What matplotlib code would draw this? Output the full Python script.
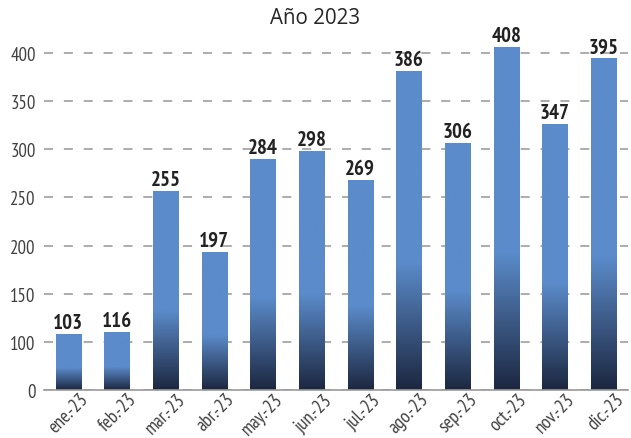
import numpy as np
import matplotlib
matplotlib.use('Agg')
import matplotlib.pyplot as plt
from matplotlib.colors import LinearSegmentedColormap
from matplotlib.transforms import ScaledTranslation

# Datos del gráfico
meses = ['ene.-23', 'feb.-23', 'mar.-23', 'abr.-23', 'may.-23', 'jun.-23',
         'jul.-23', 'ago.-23', 'sep.-23', 'oct.-23', 'nov.-23', 'dic.-23']
# altura de las barras
alturas = [108, 110, 256, 193, 289, 298, 268, 381, 306, 406, 326, 394]
# etiquetas de datos
etiquetas = [103, 116, 255, 197, 284, 298, 269, 386, 306, 408, 347, 395]
# marcas del eje y (posición / texto)
yticks = [50, 100, 150, 200, 250, 300, 350, 400]
ytick_labels = ['0', '100', '150', '200', '250', '300', '350', '400']

narrow = ['PT Sans Narrow', 'Fira Sans Condensed', 'Roboto Condensed',
          'Archivo Narrow', 'Liberation Sans Narrow', 'DejaVu Sans']

fig = plt.figure(figsize=(6.31, 4.39), dpi=100)
ax = fig.add_axes([0.0697, 0.1093, 0.9255, 0.8118])

x = np.arange(len(meses))
barras = ax.bar(x, alturas, width=0.514, color='none', zorder=2)

# degradado: oscuro abajo, azul claro desde el 40% de la barra
cmap = LinearSegmentedColormap.from_list(
    'grad', [(0.0, '#1c2740'), (0.4, '#5b8bca'), (1.0, '#5b8bca')])
grad = np.linspace(0, 1, 256).reshape(-1, 1)
ymin, ymax = 50, 420
for b in barras:
    x0 = b.get_x()
    w = b.get_width()
    top = b.get_height()
    ax.imshow(grad, cmap=cmap, origin='lower', aspect='auto',
              extent=[x0, x0 + w, ymin, top], zorder=2)

for xi, h, lab in zip(x, alturas, etiquetas):
    ax.text(xi, h + 2.5, str(lab), ha='center', va='bottom',
            fontsize=15, fontweight='bold', color='#222222', family=narrow)

ax.set_xlim(-0.5, len(meses) - 0.5)
ax.set_ylim(ymin, ymax)
ax.tick_params(length=0)
ax.tick_params(axis='y', pad=6)
ax.set_yticks(yticks)
ax.set_yticklabels(ytick_labels, family=narrow, fontsize=13.5, color='#404040')
ax.set_xticks(x)
ax.set_xticklabels(meses, rotation=45, ha='right', rotation_mode='anchor',
                   family=narrow, fontsize=13.5, color='#404040')
# desplazar las etiquetas del eje x (despues de tick_params)
off = ScaledTranslation(11 / 100, 5 / 100, fig.dpi_scale_trans)
for t in ax.get_xticklabels():
    t.set_transform(t.get_transform() + off)

ax.yaxis.grid(True, linestyle=(0, (5, 6)), color='#a6a6a6', linewidth=1.3, zorder=0)
ax.set_axisbelow(True)
for s in ['top', 'right', 'left']:
    ax.spines[s].set_visible(False)
ax.spines['bottom'].set_color('#999999')
ax.spines['bottom'].set_linewidth(1.2)

fig.text(0.5, 0.958, 'Año 2023', ha='center', va='center', fontsize=14.8,
         color='#262626', family=['Open Sans', 'DejaVu Sans'])

fig.savefig('out.png', dpi=100)
